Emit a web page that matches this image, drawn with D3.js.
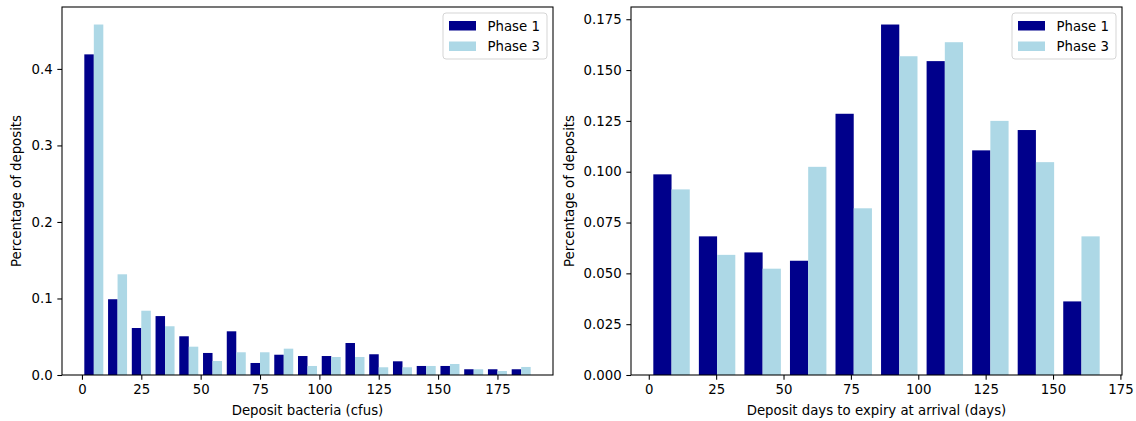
<!DOCTYPE html>
<html lang="en">
<head>
    <meta charset="UTF-8">
    <title>Deposit histograms, Phase 1 vs Phase 3</title>
    <script src="https://d3js.org/d3.v7.min.js"></script>
    <style>
        body {
            margin: 0;
            background: #fff;
            font-family: "DejaVu Sans", sans-serif;
        }
        .tick text {
            font-size: 13.3px;
            fill: #000;
        }
        .axis-label {
            font-size: 13.3px;
        }
    </style>
</head>
<body>
    <div id="chart"></div>

    <script>
        // Left panel: deposit bacteria (cfus), bin edges and normalised counts
        const bacteriaBins = [0, 10, 20, 30, 40, 50, 60, 70, 80, 90, 100, 110, 120, 130, 140, 150, 160, 170, 180, 190];
        const bacteriaPhase1 = [0.419, 0.099, 0.0614, 0.077, 0.0506, 0.0288, 0.0571, 0.0157, 0.0265, 0.0248,
                                0.0248, 0.0418, 0.0271, 0.0179, 0.0118, 0.0118, 0.0075, 0.0075, 0.0075];
        const bacteriaPhase3 = [0.458, 0.1316, 0.084, 0.0637, 0.037, 0.0183, 0.0297, 0.0297, 0.0344, 0.0118,
                                0.0235, 0.0235, 0.0101, 0.0101, 0.0118, 0.0144, 0.0075, 0.0052, 0.0105];
        const bacteriaXTicks = [0, 25, 50, 75, 100, 125, 150, 175];
        const bacteriaYTicks = [0, 0.1, 0.2, 0.3, 0.4];

        // Right panel: days to expiry at arrival
        const expiryBins = [0, 16.9, 33.8, 50.7, 67.6, 84.5, 101.4, 118.3, 135.2, 152.1, 169];
        const expiryPhase1 = [0.0987, 0.0682, 0.0603, 0.0562, 0.1285, 0.1724, 0.1544, 0.1105, 0.1205, 0.0362];
        const expiryPhase3 = [0.0913, 0.0591, 0.0523, 0.1024, 0.082, 0.1568, 0.1637, 0.125, 0.1047, 0.0682];
        const expiryXTicks = [0, 25, 50, 75, 100, 125, 150, 175];
        const expiryYTicks = [0, 0.025, 0.05, 0.075, 0.1, 0.125, 0.15, 0.175];

        const seriesNames = ["Phase 1", "Phase 3"];
        const colors = ["#00008b", "#add8e6"];

        const W = 1136, H = 421;
        const tickLen = 4.67;

        const svg = d3.select("#chart")
            .append("svg")
              .attr("width", W)
              .attr("height", H);

        function drawPanel(p) {
            const g = svg.append("g")
                .attr("transform", `translate(${p.left},${p.top})`);
            const width = p.width, height = p.height;

            // bars as matplotlib draws two datasets side by side (rwidth 0.8)
            const bars = [];
            p.bins.slice(0, -1).forEach((x0, i) => {
                const bw = p.bins[i + 1] - x0;
                bars.push({x0: x0 + 0.1 * bw, x1: x0 + 0.5 * bw, v: p.s1[i], c: colors[0]});
                bars.push({x0: x0 + 0.5 * bw, x1: x0 + 0.9 * bw, v: p.s2[i], c: colors[1]});
            });

            const lo = d3.min(bars, d => d.x0), hi = d3.max(bars, d => d.x1);
            const pad = (hi - lo) * 0.05;
            const x = d3.scaleLinear()
                .domain([lo - pad, hi + pad])
                .range([0, width]);
            const y = d3.scaleLinear()
                .domain([0, d3.max(bars, d => d.v) * 1.05])
                .range([height, 0]);

            g.selectAll("rect.bar")
                .data(bars)
                .join("rect")
                  .attr("class", "bar")
                  .attr("x", d => x(d.x0))
                  .attr("width", d => x(d.x1) - x(d.x0))
                  .attr("y", d => y(d.v))
                  .attr("height", d => y(0) - y(d.v))
                  .attr("fill", d => d.c);

            // axes
            const xAxis = g.append("g")
                .attr("transform", `translate(0,${height})`)
                .call(d3.axisBottom(x).tickValues(p.xTicks).tickFormat(d3.format("d"))
                    .tickSizeInner(tickLen).tickSizeOuter(0).tickPadding(4.67));
            const yAxis = g.append("g")
                .call(d3.axisLeft(y).tickValues(p.yTicks).tickFormat(d3.format(p.yFormat))
                    .tickSizeInner(tickLen).tickSizeOuter(0).tickPadding(4.67));
            [xAxis, yAxis].forEach(a => {
                a.select(".domain").remove();
                a.selectAll(".tick line").attr("stroke", "#000").attr("stroke-width", 1.07);
                a.attr("font-family", null).attr("font-size", null);
            });

            // frame
            g.append("rect")
                .attr("x", 0).attr("y", 0)
                .attr("width", width).attr("height", height)
                .attr("fill", "none")
                .attr("stroke", "#000")
                .attr("stroke-width", 1.07);

            // axis labels
            g.append("text")
                .attr("class", "axis-label")
                .attr("x", width / 2)
                .attr("y", height + 40)
                .attr("text-anchor", "middle")
                .text(p.xLabel);
            g.append("text")
                .attr("class", "axis-label")
                .attr("transform", `translate(${p.yLabelX},${height / 2}) rotate(-90)`)
                .attr("text-anchor", "middle")
                .text("Percentage of deposits");

            // legend
            const lg = g.append("g")
                .attr("transform", `translate(${width - 110},6)`);
            lg.append("rect")
                .attr("x", 0).attr("y", 0)
                .attr("width", 104).attr("height", 46)
                .attr("rx", 3)
                .attr("fill", "#fff")
                .attr("stroke", "#d5d5d5")
                .attr("stroke-width", 1);
            seriesNames.forEach((name, i) => {
                lg.append("rect")
                    .attr("x", 6).attr("y", 8 + i * 20.5)
                    .attr("width", 27).attr("height", 9.5)
                    .attr("fill", colors[i]);
                lg.append("text")
                    .attr("class", "axis-label")
                    .attr("x", 44.5).attr("y", 17.5 + i * 20.5)
                    .text(name);
            });
        }

        drawPanel({
            left: 62, top: 7, width: 491, height: 368,
            bins: bacteriaBins, s1: bacteriaPhase1, s2: bacteriaPhase3,
            xTicks: bacteriaXTicks, yTicks: bacteriaYTicks, yFormat: ".1f",
            xLabel: "Deposit bacteria (cfus)", yLabelX: -41
        });
        drawPanel({
            left: 631, top: 7, width: 491, height: 368,
            bins: expiryBins, s1: expiryPhase1, s2: expiryPhase3,
            xTicks: expiryXTicks, yTicks: expiryYTicks, yFormat: ".3f",
            xLabel: "Deposit days to expiry at arrival (days)", yLabelX: -57
        });
    </script>
</body>
</html>
